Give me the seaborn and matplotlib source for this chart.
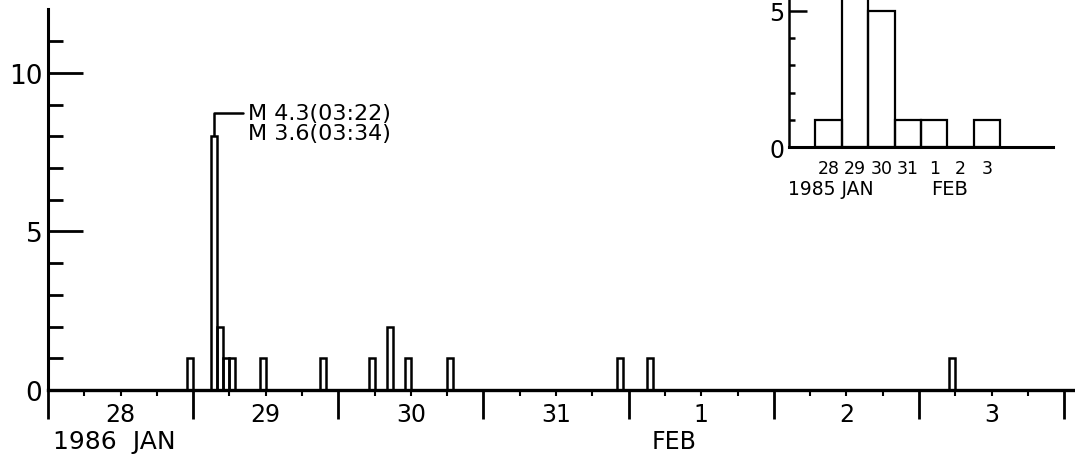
import numpy as np
import pandas as pd
import matplotlib
matplotlib.use("Agg")
import matplotlib.pyplot as plt
import seaborn as sns

# ---------------- data ----------------
# main panel: hourly counts, hour = hours after 1986 Jan 28 00:00
event_hours = [23, 27, 28, 29, 30, 35, 45, 53, 56, 59, 66, 94, 99, 149]
event_counts = [1, 8, 2, 1, 1, 1, 1, 1, 2, 1, 1, 1, 1, 1]
day_labels = ["28", "29", "30", "31", "1", "2", "3"]
y_major = [0, 5, 10]
annot_lines = ["M 4.3(03:22)", "M 3.6(03:34)"]

# inset panel: daily counts
inset_days = [28, 29, 30, 31, 32, 33, 34]
inset_counts = [1, 15, 5, 1, 1, 0, 1]
inset_labels = ["28", "29", "30", "31", "1", "2", "3"]
inset_y_major = [0, 5]

# ---------------- style ----------------
sns.set_style("ticks")
plt.rcParams["font.family"] = ["DejaVu Sans"]
plt.rcParams["axes.linewidth"] = 2.2
for k in ["text.color", "axes.labelcolor", "xtick.color", "ytick.color",
          "axes.edgecolor"]:
    plt.rcParams[k] = "black"

fig = plt.figure(figsize=(10.75, 4.6), dpi=100)
ax = fig.add_axes([48 / 1075, 69 / 460, 1 - 48 / 1075, 391 / 460])

df = pd.DataFrame({"hour": np.array(event_hours) + 0.5, "n": event_counts})
sns.histplot(data=df, x="hour", weights="n", binwidth=1, binrange=(0, 170),
             fill=False, element="bars", color="black", edgecolor="black",
             linewidth=1.8, ax=ax)

ax.set_xlim(0, 169.8)
ax.set_ylim(0, 12.33)
ax.set_xlabel("")
ax.set_ylabel("")
for s in ["top", "right"]:
    ax.spines[s].set_visible(False)
ax.spines["left"].set_bounds(0, 12)
ax.spines["left"].set_linewidth(2.2)
ax.spines["bottom"].set_linewidth(2.4)

# x ticks: day boundaries (major, long), 6-hour marks (minor) with day labels at noon
ax.set_xticks(np.arange(0, 24 * 8, 24))
ax.set_xticklabels([""] * 8)
minor_locs = [h for h in range(6, 170, 6) if h % 24]
minor_labels = [day_labels[h // 24] if h % 24 == 12 else "" for h in minor_locs]
ax.set_xticks(minor_locs, minor=True)
ax.set_xticklabels(minor_labels, minor=True)
ax.tick_params(axis="x", which="major", direction="out", length=21, width=2.0)
ax.tick_params(axis="x", which="minor", direction="out", length=4, width=1.5,
               pad=5, labelsize=17)

# y ticks inward
ax.set_yticks(y_major)
ax.set_yticklabels([str(v) for v in y_major])
ax.set_yticks([v for v in range(1, 12) if v not in y_major], minor=True)
ax.tick_params(axis="y", which="major", direction="in", length=25, width=2.0,
               pad=4, labelsize=19)
ax.tick_params(axis="y", which="minor", direction="in", length=11, width=2.0)

# annotation of largest bar
pk = int(np.argmax(event_counts))
px = event_hours[pk] + 0.5
py = event_counts[pk]
ax.annotate(annot_lines[0], xy=(px, py + 0.05), xytext=(33.0, 8.75),
            ha="left", va="center", fontsize=16,
            arrowprops=dict(arrowstyle="-", color="black", lw=1.8,
                            shrinkA=1, shrinkB=0,
                            connectionstyle="angle,angleA=0,angleB=90,rad=0"))
ax.text(33.0, 8.12, annot_lines[1], ha="left", va="center", fontsize=16)

# date captions
ax.text(0.8, -0.13, "1986  JAN", transform=ax.get_xaxis_transform(),
        ha="left", va="center", fontsize=18)
ax.text(103.5, -0.13, "FEB", transform=ax.get_xaxis_transform(),
        ha="center", va="center", fontsize=17)

# ---------------- inset ----------------
ax2 = fig.add_axes([789 / 1075, (460 - 148) / 460, 264 / 1075, 148 / 460])
ax2.patch.set_alpha(0)
di = pd.DataFrame({"day": inset_days, "n": inset_counts})
sns.histplot(data=di, x="day", weights="n", discrete=True,
             fill=False, element="bars", color="black", edgecolor="black",
             linewidth=1.6, ax=ax2)
ax2.set_xlim(26.5, 36.5)
ax2.set_ylim(0, 5.44)
ax2.set_xlabel("")
ax2.set_ylabel("")
for s in ["top", "right"]:
    ax2.spines[s].set_visible(False)
ax2.spines["left"].set_linewidth(1.8)
ax2.spines["bottom"].set_linewidth(2.2)
ax2.set_xticks(inset_days)
ax2.set_xticklabels(inset_labels)
ax2.tick_params(axis="x", length=0, pad=9, labelsize=12.5)
ax2.set_yticks(inset_y_major)
ax2.set_yticklabels([str(v) for v in inset_y_major])
ax2.set_yticks([1, 2, 3, 4], minor=True)
ax2.tick_params(axis="y", which="major", direction="in", length=13, width=1.8,
                pad=3, labelsize=17)
ax2.tick_params(axis="y", which="minor", direction="in", length=4, width=1.8)
ax2.text(26.45, -0.28, "1985 JAN", transform=ax2.get_xaxis_transform(),
         ha="left", va="center", fontsize=13.5)
ax2.text(32.6, -0.28, "FEB", transform=ax2.get_xaxis_transform(),
         ha="center", va="center", fontsize=14)

fig.savefig("out.png", dpi=100)
